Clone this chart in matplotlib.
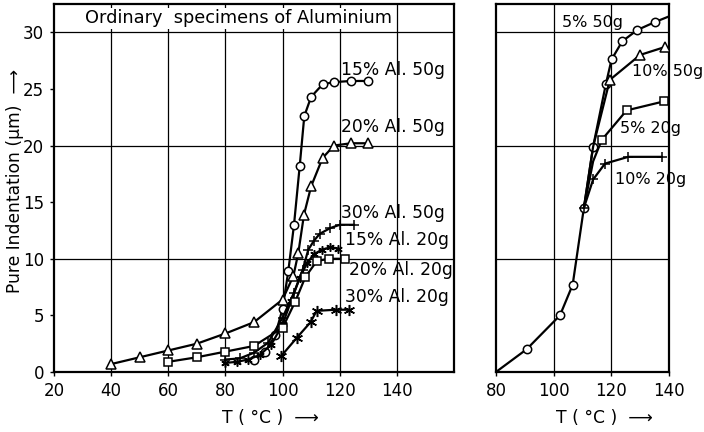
import matplotlib
matplotlib.use("Agg")
import matplotlib.pyplot as plt

plt.rcParams['font.family'] = ['DejaVu Sans']

# --- left panel: ordinary aluminium specimens ---
al15_50_t = [90, 94, 97.5, 100, 102, 104, 106, 107.6, 110, 114, 118, 124, 130]
al15_50_y = [1.1, 1.8, 3.3, 5.6, 8.9, 13.0, 18.2, 22.6, 24.3, 25.4, 25.6, 25.7, 25.7]

al20_50_t = [40, 50, 60, 70, 80, 90, 100, 103.8, 105.5, 107.5, 110, 114, 118, 124, 130]
al20_50_y = [0.7, 1.3, 1.9, 2.5, 3.4, 4.4, 6.4, 8.5, 10.5, 13.9, 16.4, 18.9, 20.0, 20.2, 20.2]

al30_50_t = [80, 85, 90, 95, 100, 104, 107, 109, 111, 113, 116.6, 120, 125]
al30_50_y = [1.1, 1.2, 1.7, 2.6, 4.8, 7.0, 9.0, 10.8, 11.6, 12.2, 12.7, 13.0, 13.0]

al15_20_t = [80, 84, 88, 92, 96, 100, 103, 106, 108.5, 111, 113.7, 116.6, 119.5]
al15_20_y = [0.8, 0.9, 1.1, 1.5, 2.4, 4.2, 6.3, 8.3, 9.6, 10.4, 10.8, 11.0, 10.9]

al20_20_t = [60, 70, 80, 90, 100, 104.4, 108, 112, 116.2, 122]
al20_20_y = [0.9, 1.3, 1.8, 2.3, 3.9, 6.2, 8.4, 9.8, 10.0, 10.0]

al30_20_t = [99.5, 104.9, 109.8, 111.9, 118.7, 123.3]
al30_20_y = [1.4, 3.0, 4.4, 5.4, 5.5, 5.5]

left_labels = ["15% Al. 50g", "20% Al. 50g", "30% Al. 50g",
               "15% Al. 20g", "20% Al. 20g", "30% Al. 20g"]
left_lab_x = [120.5, 120.5, 120.5, 121.8, 123.4, 121.8]
left_lab_y = [26.7, 21.6, 14.0, 11.7, 9.0, 6.6]

# --- right panel ---
p5_50_t = [80, 90.6, 102.2, 106.6, 110.5, 113.7, 118.1, 120.1, 123.8, 129, 135.1, 140]
p5_50_y = [0, 2.0, 5.0, 7.7, 14.5, 19.9, 25.4, 27.6, 29.2, 30.2, 30.9, 31.4]

p10_50_t = [110.5, 113.7, 119.5, 130, 138.6]
p10_50_y = [14.5, 19.9, 25.8, 28.0, 28.7]

p5_20_t = [110.5, 113.7, 116.7, 125.3, 138.3]
p5_20_y = [14.5, 18.6, 20.5, 23.1, 23.9]

p10_20_t = [110.5, 113.7, 117.8, 125.9, 137.5]
p10_20_y = [14.5, 17.0, 18.4, 19.0, 19.0]

right_labels = ["5% 50g", "10% 50g", "5% 20g", "10% 20g"]
right_lab_x = [102.9, 127.3, 123.0, 121.3]
right_lab_y = [30.9, 26.5, 21.5, 17.0]

fs = 12.3
tfs = 12
lw = 1.6
mk = dict(markerfacecolor='white', markeredgecolor='black', markeredgewidth=1.1, color='black', lw=lw)

fig = plt.figure(figsize=(7.04, 4.32), dpi=100)
axl = fig.add_axes([0.0767, 0.1389, 0.5682, 0.8519])
axr = fig.add_axes([0.7045, 0.1389, 0.2457, 0.8519])

for ax in (axl, axr):
    ax.set_ylim(0, 32.5)
    for s in ax.spines.values():
        s.set_linewidth(1.6)
    ax.tick_params(direction='out', length=3, width=1, labelsize=tfs, pad=4)
    for yv in (10, 20, 30):
        ax.axhline(yv, color='black', lw=0.9, zorder=1)

axl.set_xlim(20, 160)
axl.set_xticks([20, 40, 60, 80, 100, 120, 140])
axl.set_yticks([0, 5, 10, 15, 20, 25, 30])
for xv in (40, 60, 80, 100, 120, 140):
    axl.axvline(xv, color='black', lw=0.9, zorder=1)

axl.plot(al15_50_t, al15_50_y, marker='o', markersize=6, zorder=3, **mk)
axl.plot(al20_50_t, al20_50_y, marker='^', markersize=6.5, zorder=3, **mk)
axl.plot(al30_50_t, al30_50_y, marker='+', markersize=7, zorder=3, **mk)
axl.plot(al15_20_t, al15_20_y, marker=(6, 2, 0), markersize=6, zorder=3, **mk)
axl.plot(al20_20_t, al20_20_y, marker='s', markersize=6, zorder=3, **mk)
axl.plot(al30_20_t, al30_20_y, marker=(6, 2, 0), markersize=8, zorder=3, **mk)

for lab, x, y in zip(left_labels, left_lab_x, left_lab_y):
    axl.text(x, y, lab, fontsize=fs, va='center', ha='left', zorder=4)

axl.text(84.5, 31.25, "Ordinary  specimens of Aluminium", fontsize=12.8, ha='center', va='center',
         zorder=4, bbox=dict(facecolor='white', edgecolor='none', pad=1))

axl.set_ylabel("Pure Indentation (µm)  \u27f6", fontsize=12.3)
axl.yaxis.set_label_coords(-0.074, 0.52)
axl.text(0.54, -0.125, "T ( °C )  \u27f6", transform=axl.transAxes, fontsize=fs,
         ha='center', va='center')

axr.set_xlim(80, 140)
axr.set_xticks([80, 100, 120, 140])
axr.set_yticks([])
for xv in (100, 120):
    axr.axvline(xv, color='black', lw=0.9, zorder=1)

axr.plot(p5_50_t, p5_50_y, marker='o', markersize=6, markevery=list(range(1, 11)), zorder=3, **mk)
axr.plot(p10_50_t, p10_50_y, marker='^', markersize=6.5, markevery=[2, 3, 4], zorder=3, **mk)
axr.plot(p5_20_t, p5_20_y, marker='s', markersize=6, markevery=[2, 3, 4], zorder=3, **mk)
axr.plot(p10_20_t, p10_20_y, marker='+', markersize=7, markevery=[0, 1, 2, 3, 4], zorder=3, **mk)

for lab, x, y in zip(right_labels, right_lab_x, right_lab_y):
    axr.text(x, y, lab, fontsize=11.5, va='center', ha='left', zorder=4, clip_on=False)

axr.text(0.625, -0.125, "T ( °C )  \u27f6", transform=axr.transAxes, fontsize=fs,
         ha='center', va='center')

fig.savefig("out.png", dpi=100)
